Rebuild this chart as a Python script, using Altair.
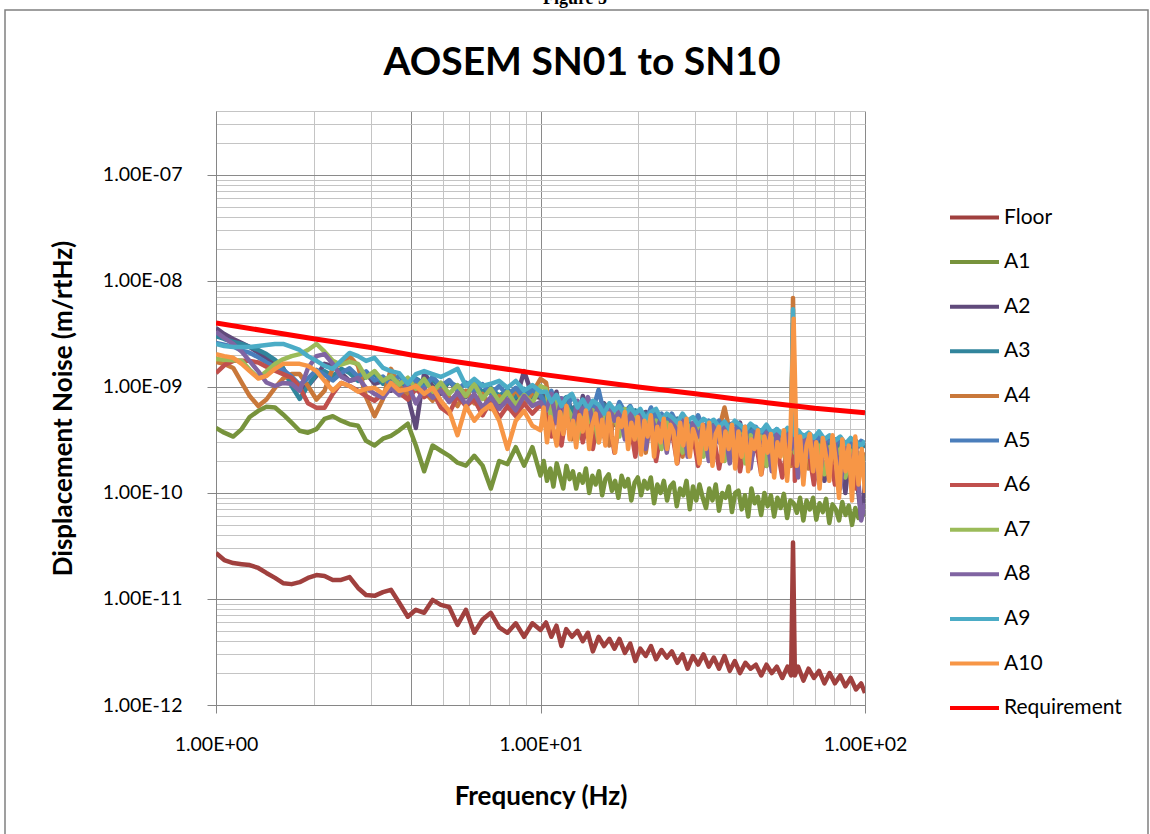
import altair as alt
import pandas as pd

# ---------------- data ----------------
FREQ_LOW = [1.00, 1.06, 1.13, 1.20, 1.27, 1.35, 1.43, 1.52, 1.61, 1.71,
            1.81, 1.92, 2.04, 2.16, 2.29, 2.43, 2.58, 2.74, 2.90, 3.08,
            3.27, 3.46, 3.67, 3.90, 4.13, 4.38, 4.65, 4.93, 5.23, 5.55,
            5.89, 6.25, 6.63, 7.03, 7.46, 7.91, 8.39, 8.90, 9.44, 10.0]
FREQ_HIGH = [10.4, 10.8, 11.2, 11.6, 12.0, 12.5, 13.0, 13.5,
             14.0, 14.5, 15.1, 15.7, 16.3, 16.9, 17.5, 18.2,
             18.9, 19.6, 20.3, 21.1, 21.9, 22.7, 23.6, 24.5,
             25.4, 26.4, 27.4, 28.4, 29.5, 30.6, 31.8, 33.0,
             34.2, 35.5, 36.9, 38.3, 39.7, 41.2, 42.8, 44.4,
             46.1, 47.9, 49.7, 51.6, 53.5, 55.6, 57.7, 59.2,
             60.0, 60.8, 62.2, 64.6, 67.0, 69.6, 72.2, 75.0,
             77.8, 80.8, 83.9, 87.0, 90.3, 93.8, 97.3, 100.0]
# denser sampling used for the two thick noisy traces (A1, A10)
FREQ_DENSE = [10.23, 10.47, 10.72, 10.96, 11.22, 11.48, 11.75, 12.02, 12.30, 12.59,
              12.88, 13.18, 13.49, 13.80, 14.13, 14.45, 14.79, 15.14, 15.49, 15.85,
              16.22, 16.60, 16.98, 17.38, 17.78, 18.20, 18.62, 19.05, 19.50, 19.95,
              20.42, 20.89, 21.38, 21.88, 22.39, 22.91, 23.44, 23.99, 24.55, 25.12,
              25.70, 26.30, 26.92, 27.54, 28.18, 28.84, 29.51, 30.20, 30.90, 31.62,
              32.36, 33.11, 33.88, 34.67, 35.48, 36.31, 37.15, 38.02, 38.90, 39.81,
              40.74, 41.69, 42.66, 43.65, 44.67, 45.71, 46.77, 47.86, 48.98, 50.12,
              51.29, 52.48, 53.70, 54.95, 56.23, 57.54, 58.88, 60.26, 61.66, 63.10,
              64.57, 66.07, 67.61, 69.18, 70.79, 72.44, 74.13, 75.86, 77.62, 79.43,
              81.28, 83.18, 85.11, 87.10, 89.13, 91.20, 93.33, 95.50, 97.72, 100.0]
FREQ = FREQ_LOW + FREQ_HIGH
FREQ_D = FREQ_LOW + FREQ_DENSE

# Floor in units of 1e-12 m/rtHz
FLOOR = [27.1, 23.3, 21.8, 21.3, 20.9, 19.6, 17.6, 15.8, 14.1, 13.8,
         14.4, 15.8, 16.8, 16.5, 15.1, 15.1, 16.1, 12.7, 10.9, 10.7,
         11.6, 12.2, 9.2, 6.8, 7.9, 7.4, 9.8, 8.8, 8.4, 5.7,
         7.9, 4.8, 6.4, 7.4, 5.4, 4.8, 5.9, 4.4, 5.9, 5.1,
         6.0, 4.4, 5.6, 3.6, 5.2, 4.4, 5.0, 4.0,
         4.8, 3.2, 4.4, 3.6, 4.2, 3.4, 4.2, 3.1,
         3.8, 2.6, 3.4, 2.9, 3.6, 2.7, 3.3, 2.8,
         3.2, 2.5, 3.0, 2.2, 2.9, 2.4, 3.0, 2.3,
         2.8, 2.2, 2.9, 2.1, 2.6, 2.0, 2.5, 2.2,
         2.4, 1.9, 2.4, 2.0, 2.3, 1.8, 2.3, 1.9,
         34.0, 1.9, 2.3, 1.7, 2.2, 1.8, 2.1, 1.6,
         2.0, 1.6, 1.9, 1.5, 1.8, 1.4, 1.6, 1.3]

# A-series in units of 1e-10 m/rtHz
A1 = [4.1, 3.7, 3.4, 4.0, 5.2, 5.95, 6.5, 6.4, 5.5, 4.6,
      3.86, 3.7, 4.0, 5.0, 5.3, 4.8, 4.45, 4.3, 3.1, 2.8,
      3.25, 3.46, 3.9, 4.5, 2.8, 1.6, 2.8, 2.5, 2.24, 1.93,
      1.81, 2.24, 1.81, 1.1, 2.0, 1.87, 2.7, 1.81, 2.7, 1.46,
      2.0, 1.3, 1.7, 1.15, 1.9, 1.45, 1.1, 1.8, 1.35, 1.6,
      1.1, 1.5, 1.25, 1.7, 1.0, 1.45, 1.2, 1.6, 0.95, 1.35,
      1.5, 1.05, 1.3, 0.9, 1.45, 1.15, 1.35, 0.85, 1.25, 1.4,
      0.95, 1.3, 1.1, 1.4, 0.8, 1.2, 1.0, 1.3, 0.85, 1.15,
      1.25, 0.75, 1.1, 0.95, 1.3, 0.7, 1.15, 0.85, 1.2, 0.9,
      0.72, 1.1, 0.85, 1.2, 0.68, 1.0, 0.9, 1.15, 0.66, 1.0,
      1.05, 0.7, 0.95, 0.6, 1.1, 0.8, 0.92, 0.62, 1.0, 0.75,
      0.95, 0.6, 0.9, 0.72, 0.98, 0.58, 0.85, 0.8, 0.65, 0.9,
      0.55, 0.85, 0.7, 0.9, 0.56, 0.8, 0.66, 0.88, 0.52, 0.78,
      0.7, 0.55, 0.82, 0.62, 0.76, 0.5, 0.72, 0.58, 0.8, 0.6]

A2 = [35.9, 31.5, 28.3, 25.9, 23.8, 21.0, 18.8, 16.5, 14.8, 11.4,
      9.6, 10.2, 12.7, 16.5, 15.8, 13.5, 11.4, 12.0, 13.5, 10.7,
      11.4, 9.2, 10.7, 8.2, 4.1, 13.5, 10.2, 8.6, 11.4, 9.2,
      8.0, 10.7, 7.9, 9.6, 6.9, 8.8, 7.4, 14.1, 8.2, 7.9,
      8.4, 5.6, 9.0, 4.8, 7.6, 6.2, 4.2, 8.2,
      5.8, 6.8, 3.4, 7.0, 5.6, 4.4, 6.6, 3.8,
      6.4, 5.2, 3.0, 5.8, 4.8, 5.6, 2.8, 5.2,
      4.4, 5.0, 2.6, 4.8, 3.8, 5.0, 2.4, 4.6,
      3.6, 4.4, 2.2, 4.2, 3.4, 4.6, 2.0, 4.0,
      3.0, 3.9, 1.8, 3.8, 2.8, 3.6, 1.7, 3.5,
      20.0, 2.6, 3.4, 1.5, 3.3, 2.4, 3.2, 1.3,
      3.1, 2.0, 3.0, 1.0, 2.8, 1.6, 0.6, 1.2]

A3 = [30.2, 28.3, 26.6, 25.4, 23.8, 22.3, 20.4, 18.0, 15.1, 10.2,
      7.7, 10.2, 13.2, 14.1, 12.7, 14.8, 13.5, 11.4, 12.4, 13.2,
      10.7, 12.0, 11.0, 9.2, 12.0, 10.7, 11.9, 9.6, 11.0, 10.2,
      8.6, 10.7, 9.0, 9.8, 8.2, 9.4, 8.0, 9.6, 7.9, 8.6,
      7.0, 8.2, 6.0, 7.4, 8.0, 5.8, 7.2, 6.4,
      7.0, 5.4, 6.4, 6.8, 5.2, 6.2, 5.0, 6.0,
      5.4, 6.0, 4.6, 5.6, 5.0, 4.4, 5.4, 4.8,
      4.4, 5.0, 4.2, 4.8, 3.9, 4.6, 4.2, 3.8,
      4.4, 3.7, 4.2, 3.9, 3.5, 4.2, 3.6, 4.0,
      3.4, 3.9, 3.5, 3.2, 3.8, 3.3, 3.6, 3.1,
      40.0, 3.4, 3.0, 3.5, 2.9, 3.3, 2.8, 3.2,
      2.9, 3.2, 2.7, 3.0, 2.6, 3.1, 2.7, 2.8]

A4 = [17.2, 16.5, 15.1, 11.0, 8.2, 6.6, 7.6, 9.8, 12.0, 13.2,
      13.2, 10.2, 7.6, 9.2, 15.1, 16.5, 19.5, 15.8, 8.0, 5.3,
      7.7, 14.8, 10.2, 8.6, 11.4, 9.0, 7.4, 10.2, 8.0, 6.6,
      9.2, 7.0, 8.6, 6.2, 8.2, 7.0, 9.6, 6.8, 8.8, 11.9,
      11.0, 5.4, 8.0, 4.2, 6.8, 3.2, 6.4, 4.6,
      7.0, 3.8, 6.2, 5.0, 2.8, 5.8, 4.2, 5.6,
      3.4, 5.4, 4.6, 2.4, 5.2, 3.6, 5.0, 3.0,
      4.8, 3.8, 2.2, 4.6, 3.2, 4.4, 2.6, 4.2,
      3.4, 4.0, 6.4, 3.8, 2.4, 3.6, 3.0, 1.9,
      3.5, 2.8, 3.4, 2.0, 3.3, 2.6, 3.2, 1.8,
      69.0, 3.1, 2.4, 3.0, 1.7, 2.9, 2.2, 2.8,
      1.6, 2.7, 2.1, 2.6, 1.5, 2.5, 2.0, 2.4]

A5 = [26.0, 25.0, 24.0, 22.0, 21.0, 19.0, 17.0, 15.5, 14.5, 12.5,
      10.5, 12.0, 14.5, 13.0, 11.5, 13.5, 15.0, 12.5, 14.0, 11.5,
      12.5, 10.5, 12.8, 10.0, 11.8, 9.6, 12.5, 10.2, 11.6, 9.4,
      11.0, 9.0, 10.6, 8.6, 10.2, 8.4, 9.8, 8.0, 9.4, 8.2,
      6.8, 9.2, 6.2, 7.8, 5.8, 8.4, 6.6, 5.6,
      7.8, 6.0, 9.4, 5.6, 6.8, 5.4, 7.2, 5.8,
      6.6, 5.2, 6.0, 4.8, 6.4, 5.0, 5.6, 4.6,
      5.6, 4.4, 5.2, 4.6, 4.2, 5.4, 4.0, 4.8,
      4.0, 4.8, 3.8, 4.4, 4.6, 3.7, 4.2, 3.6,
      4.2, 3.5, 3.9, 3.4, 4.0, 3.3, 3.7, 3.4,
      30.0, 3.2, 3.6, 3.0, 3.5, 2.9, 3.4, 3.0,
      3.2, 2.8, 3.3, 2.7, 3.0, 2.6, 3.1, 2.9]

A6 = [13.5, 16.0, 17.6, 17.6, 17.6, 17.0, 15.5, 14.2, 13.2, 12.2,
      10.0, 7.0, 6.35, 6.35, 8.6, 10.9, 10.2, 9.2, 8.2, 7.4,
      8.6, 10.2, 8.8, 7.6, 9.6, 8.0, 9.0, 6.4, 5.6, 8.2,
      6.6, 7.6, 5.4, 7.4, 5.1, 6.6, 5.3, 7.0, 5.6, 6.8,
      5.6, 3.4, 6.2, 2.8, 5.4, 4.2, 5.8, 3.0,
      5.0, 2.6, 5.4, 3.6, 4.8, 2.4, 4.6, 3.4,
      4.4, 2.2, 4.6, 3.0, 4.2, 2.0, 4.0, 2.8,
      3.8, 1.9, 3.9, 2.6, 3.6, 1.8, 3.5, 2.4,
      3.4, 1.7, 3.3, 2.2, 3.2, 1.6, 3.1, 2.0,
      3.0, 1.5, 2.9, 2.0, 2.8, 1.4, 2.8, 1.9,
      25.0, 1.3, 2.7, 1.8, 2.6, 1.2, 2.5, 1.7,
      2.4, 1.2, 2.3, 1.6, 2.2, 1.1, 2.1, 1.4]

A7 = [18.3, 18.0, 17.8, 17.6, 14.5, 12.2, 14.0, 16.5, 18.2, 19.5,
      20.4, 22.3, 25.4, 21.5, 17.6, 16.2, 17.2, 16.5, 12.2, 14.1,
      11.4, 12.7, 10.5, 12.2, 9.6, 11.9, 9.0, 11.0, 8.6, 10.4,
      8.2, 10.7, 7.7, 9.6, 7.2, 9.0, 6.8, 8.4, 7.0, 10.2,
      9.6, 5.0, 7.4, 4.0, 6.6, 5.2, 3.2, 6.2,
      4.6, 6.0, 3.0, 5.8, 4.4, 5.6, 3.4, 6.2,
      4.2, 5.4, 3.0, 5.0, 4.0, 4.8, 2.6, 4.6,
      3.8, 4.6, 2.4, 4.4, 3.4, 4.2, 2.2, 4.0,
      3.2, 4.0, 2.0, 3.8, 3.0, 3.6, 1.9, 3.5,
      2.8, 3.4, 1.8, 3.3, 2.6, 3.2, 1.7, 3.1,
      22.0, 2.4, 3.0, 1.6, 2.9, 2.3, 2.8, 1.5,
      2.7, 2.2, 2.6, 1.4, 2.5, 2.1, 2.4, 1.8]

A8 = [33.0, 29.0, 25.5, 21.5, 17.5, 14.0, 11.0, 10.2, 10.9, 10.7,
      9.2, 15.0, 19.5, 20.4, 16.5, 12.5, 11.4, 12.2, 9.8, 8.6,
      7.9, 9.8, 8.4, 10.5, 7.0, 9.6, 7.9, 9.2, 7.2, 8.8,
      6.8, 8.6, 6.4, 8.0, 6.2, 7.6, 6.0, 8.2, 6.6, 7.2,
      6.0, 8.6, 4.6, 7.8, 5.2, 4.0, 7.4, 5.6,
      8.0, 4.4, 6.8, 3.4, 6.4, 4.8, 6.0, 3.2,
      5.8, 4.2, 5.6, 2.6, 5.4, 3.8, 5.2, 2.4,
      5.0, 3.6, 4.8, 2.2, 4.6, 3.4, 4.4, 2.0,
      4.3, 3.0, 4.2, 1.9, 4.0, 2.8, 3.9, 1.7,
      3.8, 2.6, 3.7, 1.6, 3.6, 2.4, 3.5, 2.6,
      18.0, 3.4, 1.4, 3.3, 2.2, 3.2, 1.3, 3.1,
      2.0, 3.0, 1.1, 2.9, 1.8, 2.8, 0.55, 0.8]

A9 = [25.4, 24.3, 23.8, 23.8, 23.8, 24.3, 24.8, 25.4, 25.4, 23.8,
      22.3, 19.5, 17.6, 15.8, 14.8, 17.6, 20.9, 19.5, 17.6, 18.8,
      15.1, 14.1, 13.5, 10.7, 13.2, 14.1, 13.2, 12.4, 13.5, 14.8,
      10.2, 11.9, 10.2, 10.7, 11.4, 9.8, 11.4, 9.2, 10.4, 9.0,
      9.0, 7.2, 8.4, 6.6, 7.8, 8.6, 6.4, 7.6,
      6.2, 7.4, 6.8, 5.6, 7.0, 6.0, 6.6, 5.4,
      6.4, 5.6, 6.2, 5.0, 5.8, 6.2, 4.9, 5.6,
      5.2, 4.6, 5.6, 4.8, 5.2, 4.4, 5.0, 4.6,
      4.9, 4.2, 4.7, 4.0, 4.8, 4.4, 3.9, 4.5,
      4.1, 3.8, 4.4, 3.7, 4.0, 3.6, 4.1, 3.8,
      54.0, 3.5, 3.9, 3.4, 3.7, 3.3, 3.8, 3.2,
      3.5, 3.1, 3.4, 2.9, 3.3, 3.0, 2.8, 3.1]

A10 = [20.4, 19.5, 18.8, 16.5, 14.1, 12.0, 12.7, 14.8, 16.5, 16.5,
       16.5, 15.8, 14.1, 11.4, 9.2, 10.9, 10.2, 9.0, 9.6, 9.8,
       8.6, 10.9, 9.2, 9.5, 10.2, 8.6, 9.8, 7.4, 5.95, 3.5,
       6.6, 4.8, 5.95, 6.8, 4.8, 2.6, 4.8, 5.95, 4.3, 3.9,
       6.4, 3.0, 5.2, 4.0, 2.8, 5.8, 3.6, 6.6, 3.2, 4.8,
       2.7, 5.4, 3.8, 6.0, 2.6, 4.4, 5.6, 3.0, 4.9, 2.8,
       5.6, 3.4, 2.4, 5.0, 4.2, 5.8, 2.6, 4.6, 3.2, 5.2,
       2.3, 4.8, 3.4, 5.4, 2.2, 4.2, 3.0, 5.0, 2.6, 4.4,
       3.8, 1.9, 4.6, 2.8, 5.0, 2.2, 4.0, 3.2, 1.9, 4.4,
       2.6, 4.6, 1.8, 3.6, 4.2, 2.0, 3.8, 2.6, 4.4, 1.7,
       3.8, 2.2, 4.2, 1.6, 3.2, 2.6, 3.9, 1.5, 3.4, 2.4,
       3.6, 1.4, 3.0, 2.2, 3.9, 1.3, 3.2, 44.0, 1.8, 3.4,
       1.2, 2.8, 3.6, 1.6, 3.0, 1.1, 3.3, 2.2, 1.3, 3.5,
       2.0, 0.9, 3.2, 1.6, 2.8, 0.85, 3.4, 1.2, 2.6, 1.0]

REQ_F = [1, 2, 3, 4, 5, 7, 10, 15, 20, 30, 40, 50, 70, 100]
REQ_V = [40, 28.5, 23.5, 20, 18, 15.5, 13.2, 11.2, 10, 8.6, 7.7, 7.1, 6.3, 5.7]

SERIES = ["Floor", "A1", "A2", "A3", "A4", "A5", "A6", "A7", "A8", "A9", "A10",
          "Requirement"]
COLORS = ["#A0403E", "#77933C", "#604A7B", "#31859C", "#C9783A", "#4A7EBB",
          "#C0504D", "#9BBB59", "#8064A2", "#4BACC6", "#F79646", "#FF0000"]

# ---------------- table ----------------
rows = []
for f, v in zip(FREQ, FLOOR):
    rows.append({"series": "Floor", "freq": f, "noise": v * 1e-12})
series_vals = {"A1": A1, "A2": A2, "A3": A3, "A4": A4, "A5": A5, "A6": A6,
               "A7": A7, "A8": A8, "A9": A9, "A10": A10}
for name, vals in series_vals.items():
    fx = FREQ_D if name in ("A1", "A10") else FREQ
    for f, v in zip(fx, vals):
        rows.append({"series": name, "freq": f, "noise": v * 1e-10})
for f, v in zip(REQ_F, REQ_V):
    rows.append({"series": "Requirement", "freq": f, "noise": v * 1e-10})
df = pd.DataFrame(rows)

# ---------------- layout ----------------
PL, PT = 216, 111
W, H = 649, 594
FONT = "Lato"

x_vals = [m * 10 ** e for e in range(0, 2) for m in range(1, 10)] + [100]
y_vals = [m * 10.0 ** e for e in range(-12, -7) for m in range(1, 10)] + [1e-7, 2e-7, 3e-7, 4e-7]

dec = "abs(log(datum.value)/LN10 - round(log(datum.value)/LN10)) < 0.001"

x_axis = alt.Axis(
    values=x_vals,
    labelExpr="(" + dec + ") ? '1.00E+0' + round(log(datum.value)/LN10) : ''",
    grid=True,
    gridColor={"condition": {"test": "(" + dec + ") || datum.value == 4", "value": "#8a8a8a"},
               "value": "#c4c4c4"},
    gridWidth=1,
    tickOpacity={"condition": {"test": dec, "value": 1}, "value": 0},
    tickSize=8, tickColor="#868686",
    domainColor="#868686",
    labelFont=FONT, labelFontSize=19.5, labelColor="#000000", labelPadding=22,
    labelFlush=False, labelOverlap=False,
    title="Frequency (Hz)", titleFont=FONT, titleFontSize=26, titleFontWeight="bold",
    titleColor="#000000", titleY=78, titleBaseline="top",
)
y_axis = alt.Axis(
    values=y_vals,
    labelExpr="(" + dec + ") ? '1.00E-' + (abs(round(log(datum.value)/LN10)) < 10 ? '0' : '') + abs(round(log(datum.value)/LN10)) : ''",
    grid=True,
    gridColor={"condition": {"test": dec, "value": "#8a8a8a"}, "value": "#c4c4c4"},
    gridWidth=1,
    tickOpacity={"condition": {"test": dec, "value": 1}, "value": 0},
    tickSize=9, tickColor="#868686",
    domainColor="#868686",
    labelFont=FONT, labelFontSize=19.5, labelColor="#000000", labelPadding=25,
    labelFlush=False, labelOverlap=False,
    title="Displacement Noise  (m/rtHz)", titleFont=FONT, titleFontSize=26,
    titleFontWeight="bold", titleColor="#000000", titleX=-140, titleY=H / 2,
)

x_enc = alt.X("freq:Q", scale=alt.Scale(type="log", domain=[1, 100], nice=False), axis=x_axis)
y_enc = alt.Y("noise:Q", scale=alt.Scale(type="log", domain=[1e-12, 4e-7], nice=False), axis=y_axis)
c_enc = alt.Color(
    "series:N",
    scale=alt.Scale(domain=SERIES, range=COLORS),
    legend=alt.Legend(
        title=None, orient="none", legendX=732, legendY=80,
        symbolType="stroke", symbolStrokeWidth=4, symbolSize=2400,
        labelFont=FONT, labelFontSize=21, labelColor="#000000",
        labelOffset=3, rowPadding=7.6, symbolOpacity=1,
    ),
)

base = alt.Chart(df).encode(x=x_enc, y=y_enc, color=c_enc)

layers = []
for s in SERIES:
    sw = 5 if s == "Requirement" else 4.5
    layers.append(
        base.transform_filter(alt.datum.series == s)
        .mark_line(strokeWidth=sw, interpolate="linear", clip=True, strokeJoin="round")
    )

one = pd.DataFrame({"k": [0]})
frame = alt.Chart(one).mark_rect(fillOpacity=0, stroke="#808080", strokeWidth=1.5).encode(
    x=alt.value(5 - PL), x2=alt.value(1148 - PL), y=alt.value(10 - PT), y2=alt.value(840 - PT)
)
fig = alt.Chart(one).mark_text(
    text="Figure 5", font="Liberation Serif", fontWeight="bold", fontSize=18,
    baseline="alphabetic", align="center", color="#000000"
).encode(x=alt.value(575 - PL), y=alt.value(4 - PT))
title = alt.Chart(one).mark_text(
    text="AOSEM SN01 to SN10", font=FONT, fontWeight="bold", fontSize=39,
    baseline="alphabetic", align="center", color="#000000"
).encode(x=alt.value(582 - PL), y=alt.value(75 - PT))

chart = alt.layer(*layers, frame, fig, title).properties(
    width=W, height=H,
    padding={"left": PL, "top": PT, "right": 1150 - PL - W, "bottom": 834 - PT - H},
    autosize=alt.AutoSizeParams(type="none"),
    background="#ffffff",
).configure_view(stroke=None)

chart.save("out.html", embed_options={"renderer": "svg", "actions": False})
